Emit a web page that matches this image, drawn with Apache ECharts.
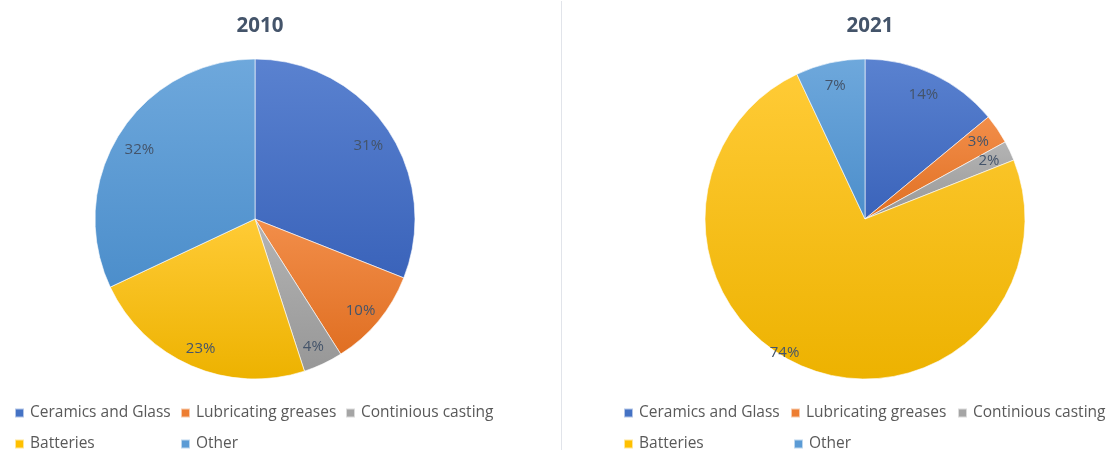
<!DOCTYPE html>
<html>
<head>
<meta charset="utf-8">
<script src="https://cdn.jsdelivr.net/npm/echarts@6/dist/echarts.min.js"></script>
<style>
html,body{margin:0;padding:0;background:#fff;}
#chart{width:1109px;height:451px;}
</style>
</head>
<body>
<div id="chart"></div>
<script>
const categories = ['Ceramics and Glass', 'Lubricating greases', 'Continious casting', 'Batteries', 'Other'];
const values2010 = [31, 10, 4, 23, 32];
const values2021 = [14, 3, 2, 74, 7];
const titles = ['2010', '2021'];

const baseColors = ['#4472C4', '#ED7D31', '#A5A5A5', '#FFC000', '#5B9BD5'];
const topColors  = ['#5A82D0', '#F28E4A', '#B4B4B4', '#FFCB36', '#6EA8DC'];
const botColors  = ['#3A63BA', '#E06F22', '#979797', '#EDB200', '#4C8ECB'];

const chart = echarts.init(document.getElementById('chart'));
const FONT = '"Open Sans", "Liberation Sans", sans-serif';
const TXT = '#44546A';

function grad(i) {
  return new echarts.graphic.LinearGradient(0, 0, 0, 1, [
    { offset: 0, color: topColors[i] },
    { offset: 1, color: botColors[i] }
  ]);
}

function mainSeries(vals, cx) {
  return {
    type: 'pie',
    center: [cx, 219],
    radius: [0, 160],
    startAngle: 90,
    clockwise: true,
    label: { show: false },
    labelLine: { show: false },
    emphasis: { disabled: true },
    itemStyle: { borderColor: 'rgba(255,255,255,0.6)', borderWidth: 1 },
    data: categories.map((c, i) => ({ name: c, value: vals[i], itemStyle: { color: grad(i) } }))
  };
}

function labelSeries(vals, cx, layout) {
  return {
    type: 'pie',
    center: [cx, 219],
    radius: [108, 160],
    startAngle: 90,
    clockwise: true,
    silent: true,
    legendHoverLink: false,
    emphasis: { disabled: true },
    itemStyle: { color: 'rgba(0,0,0,0)' },
    label: {
      show: true, position: 'inside', formatter: '{c}%',
      color: TXT, fontSize: 15, fontFamily: FONT
    },
    labelLine: { show: false },
    labelLayout: layout,
    data: categories.map((c, i) => ({ name: c, value: vals[i] }))
  };
}

const legendPos = [
  [[14, 411], [180, 411], [345, 411], [14, 442], [180, 442]],
  [[623, 411], [790, 411], [957, 411], [623, 442], [793, 442]]
];
const legends = [];
legendPos.forEach(set => {
  set.forEach((p, i) => {
    legends.push({
      left: p[0], top: p[1] - 6, padding: 0, orient: 'horizontal',
      itemWidth: 9, itemHeight: 9, itemGap: 5,
      icon: 'rect', selectedMode: false,
      textStyle: { color: '#595959', fontSize: 15.5, fontFamily: FONT, padding: [0, 0, 0, 1] },
      data: [{ name: categories[i], itemStyle: { color: baseColors[i] } }]
    });
  });
});

chart.setOption({
  backgroundColor: '#fff',
  animation: false,
  title: titles.map((t, k) => ({
    text: t, left: k === 0 ? 255 : 865, top: 11, textAlign: 'center',
    textStyle: { color: TXT, fontSize: 20.5, fontWeight: 'bold', fontFamily: FONT }
  })),
  legend: legends,
  graphic: [{
    type: 'line', shape: { x1: 561.5, y1: 1, x2: 561.5, y2: 450 },
    style: { stroke: '#E1E4EA', lineWidth: 1 }
  }],
  series: [
    mainSeries(values2010, 255),
    mainSeries(values2021, 865),
    labelSeries(values2010, 255, function () { return { dy: 4 }; }),
    labelSeries(values2021, 865, function (p) {
      if (p.dataIndex === 3) return { dx: -30, dy: 6 };
      return {};
    })
  ]
});
</script>
</body>
</html>
